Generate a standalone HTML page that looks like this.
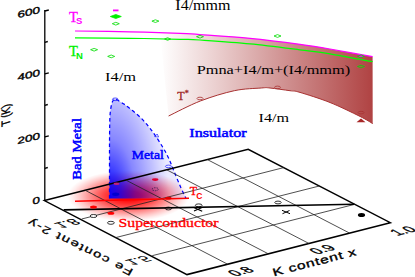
<!DOCTYPE html>
<html><head><meta charset="utf-8">
<style>
html,body{margin:0;padding:0;background:#fff;}
body{width:415px;height:277px;overflow:hidden;font-family:"Liberation Serif",serif;}
svg{display:block;}
text{font-family:"Liberation Serif",serif;}
.sb{font-family:"Liberation Sans",sans-serif;font-weight:bold;}
.ss{font-family:"Liberation Sans",sans-serif;}
</style></head><body>
<svg width="415" height="277" viewBox="0 0 415 277">
<defs>
<linearGradient id="gr" x1="160" y1="0" x2="372" y2="0" gradientUnits="userSpaceOnUse">
<stop offset="0" stop-color="#ffffff"/>
<stop offset="0.25" stop-color="#ecd2d2"/>
<stop offset="0.6" stop-color="#cf8f8f"/>
<stop offset="1" stop-color="#b04343"/>
</linearGradient>
<radialGradient id="gb" cx="0" cy="0" r="1" gradientUnits="userSpaceOnUse" gradientTransform="translate(109,199) scale(60,135)">
<stop offset="0" stop-color="#0000ff" stop-opacity="0.98"/>
<stop offset="0.2" stop-color="#0000ff" stop-opacity="0.78"/>
<stop offset="0.45" stop-color="#0000ff" stop-opacity="0.47"/>
<stop offset="0.75" stop-color="#0000ff" stop-opacity="0.25"/>
<stop offset="0.9" stop-color="#0000ff" stop-opacity="0.14"/>
<stop offset="1" stop-color="#0000ff" stop-opacity="0.08"/>
</radialGradient>
<radialGradient id="gs" cx="0.5" cy="0.5" r="0.5">
<stop offset="0" stop-color="#ff0000" stop-opacity="1"/>
<stop offset="0.2" stop-color="#ff0000" stop-opacity="0.93"/>
<stop offset="0.4" stop-color="#ff0000" stop-opacity="0.74"/>
<stop offset="0.6" stop-color="#ff0000" stop-opacity="0.48"/>
<stop offset="0.8" stop-color="#ff0000" stop-opacity="0.21"/>
<stop offset="0.92" stop-color="#ff0000" stop-opacity="0.07"/>
<stop offset="1" stop-color="#ff0000" stop-opacity="0"/>
</radialGradient>
</defs>
<rect width="415" height="277" fill="#fff"/>

<!-- red structural region -->
<path d="M160.0,32.6 C163.3,32.7 173.3,33.0 180.0,33.3 C186.7,33.6 188.3,33.8 200.0,34.6 C211.7,35.4 233.3,36.7 250.0,38.3 C266.7,39.9 286.7,42.5 300.0,44.3 C313.3,46.1 317.9,46.9 330.0,49.0 C342.1,51.1 365.5,55.4 372.6,56.7 L372.7,123.6 C370.6,122.4 367.1,119.9 360.0,116.4 C352.9,112.9 340.0,106.5 330.0,102.5 C320.0,98.5 306.7,94.4 300.0,92.4 C293.3,90.4 295.0,91.4 290.0,90.7 C285.0,90.0 274.8,88.5 270.0,88.0 C265.2,87.5 267.2,87.5 261.3,88.0 C255.4,88.5 244.4,88.5 234.3,90.7 C224.2,92.9 211.6,96.7 200.6,100.9 C189.6,105.1 173.9,113.5 168.6,116.0 Z" fill="url(#gr)"/>
<path d="M168.6,116.0 C173.9,113.5 189.6,105.1 200.6,100.9 C211.6,96.7 224.2,92.9 234.3,90.7 C244.4,88.5 255.4,88.5 261.3,88.0 C267.2,87.5 265.2,87.5 270.0,88.0 C274.8,88.5 285.0,90.0 290.0,90.7 C295.0,91.4 293.3,90.4 300.0,92.4 C306.7,94.4 320.0,98.5 330.0,102.5 C340.0,106.5 352.9,112.9 360.0,116.4 C367.1,119.9 370.6,122.4 372.7,123.6" fill="none" stroke="#a83232" stroke-width="1"/>

<!-- superconductor blob -->
<ellipse cx="128.5" cy="196" rx="61" ry="25.5" fill="url(#gs)"/>

<!-- blue metal region -->
<path d="M109.5,198.5 C109.5,190.4 109.5,162.2 109.5,150.0 C109.5,137.8 109.6,131.3 109.7,125.0 C109.8,118.7 109.9,115.8 110.3,112.0 C110.7,108.2 111.5,104.2 112.3,102.0 C113.1,99.8 114.7,99.2 115.2,98.7 C116.7,99.6 121.0,102.1 123.9,104.1 C126.8,106.1 129.6,108.2 132.5,110.6 C135.4,112.9 138.5,115.5 141.2,118.2 C143.9,120.9 146.5,124.0 148.8,126.9 C151.2,129.8 153.0,132.2 155.3,135.6 C157.7,139.0 160.7,143.8 162.9,147.5 C165.1,151.2 166.6,153.9 168.4,157.7 C170.2,161.4 171.4,164.9 173.5,170.0 C175.6,175.1 178.9,183.2 181.0,188.0 C183.1,192.8 185.2,196.8 186.0,198.5 Z" fill="url(#gb)"/>
<path d="M109.5,198.5 C109.5,190.4 109.5,162.2 109.5,150.0 C109.5,137.8 109.6,131.3 109.7,125.0 C109.8,118.7 109.9,115.8 110.3,112.0 C110.7,108.2 111.5,104.2 112.3,102.0 C113.1,99.8 114.7,99.2 115.2,98.7 C116.7,99.6 121.0,102.1 123.9,104.1 C126.8,106.1 129.6,108.2 132.5,110.6 C135.4,112.9 138.5,115.5 141.2,118.2 C143.9,120.9 146.5,124.0 148.8,126.9 C151.2,129.8 153.0,132.2 155.3,135.6 C157.7,139.0 160.7,143.8 162.9,147.5 C165.1,151.2 166.6,153.9 168.4,157.7 C170.2,161.4 171.4,164.9 173.5,170.0 C175.6,175.1 178.9,183.2 181.0,188.0 C183.1,192.8 185.2,196.8 186.0,198.5" fill="none" stroke="#0000ff" stroke-width="1.25" stroke-dasharray="3.6,2.8"/>

<!-- floor -->
<g stroke="#000" fill="none">
<path d="M44.4,200.6 L248.2,149.3 L390.3,222.7 L187,274.6 Z" stroke-width="1.5"/>
<g stroke-width="0.8" stroke="#222">
<line x1="85.2" y1="190.3" x2="227.6" y2="264.2"/>
<line x1="125.9" y1="180.1" x2="268.3" y2="253.8"/>
<line x1="166.7" y1="169.8" x2="309" y2="243.5"/>
<line x1="207.4" y1="159.6" x2="349.6" y2="233.1"/>
<line x1="81.7" y1="219" x2="283.7" y2="167.6"/>
<line x1="115.7" y1="237.6" x2="319.3" y2="186"/>
<line x1="152.2" y1="255.7" x2="354.8" y2="204.3"/>
</g>
<line x1="63.7" y1="209.9" x2="354.3" y2="204.2" stroke-width="1.6"/>
</g>

<!-- Tc line -->
<line x1="75" y1="201.2" x2="189" y2="198.3" stroke="#ff0000" stroke-width="1.4"/>

<!-- T axis -->
<g stroke="#000" stroke-width="1.3" fill="none">
<line x1="44.8" y1="10" x2="44.8" y2="201"/>
<path d="M44.8,11 l4,-1 M44.8,42.3 l3,-0.8 M44.8,73.8 l4,-1 M44.8,105.3 l3,-0.8 M44.8,136.8 l4,-1 M44.8,168.3 l3,-0.8"/>
</g>

<!-- Ts, TN lines -->
<path d="M75.0,31.0 C84.2,31.1 112.5,31.4 130.0,31.8 C147.5,32.2 168.3,32.8 180.0,33.3 C191.7,33.8 188.3,33.8 200.0,34.6 C211.7,35.4 233.3,36.7 250.0,38.3 C266.7,39.9 286.7,42.5 300.0,44.3 C313.3,46.1 317.9,46.9 330.0,49.0 C342.1,51.1 365.5,55.4 372.6,56.7" fill="none" stroke="#ff00ff" stroke-width="1.2"/>
<path d="M75.0,37.8 C84.2,37.9 112.5,38.0 130.0,38.3 C147.5,38.5 168.3,39.0 180.0,39.3 C191.7,39.6 188.3,39.2 200.0,40.0 C211.7,40.8 233.3,42.2 250.0,43.8 C266.7,45.4 286.7,48.1 300.0,49.8 C313.3,51.5 317.9,51.8 330.0,53.8 C342.1,55.8 365.5,60.4 372.6,61.7" fill="none" stroke="#00ff00" stroke-width="1.2"/>

<!-- markers -->
<g fill="none" stroke-width="0.8">
<line x1="113" y1="10.4" x2="118.5" y2="10.4" stroke="#ff00ff" stroke-width="1.8"/>
<path d="M110.3,16.5 L115.8,14.5 L121.3,16.5 L115.8,18.5 Z" fill="#00f000" stroke="#00f000"/>
<path d="M112.3,23.7 L115.8,22.3 L119.3,23.7 L115.8,25.1 Z" stroke="#00dd00"/>
<path d="M151.9,21.1 L155.4,19.8 L158.9,21.1 L155.4,22.5 Z" stroke="#00dd00"/>
<path d="M90.6,49.7 L94.1,48.4 L97.6,49.7 L94.1,51.1 Z" stroke="#00dd00"/>
<path d="M107.7,56.4 L111.2,55.0 L114.7,56.4 L111.2,57.8 Z" stroke="#00dd00"/>
<path d="M164.6,39.0 L167.6,37.7 L170.6,39.0 L167.6,40.3 Z" stroke="#00dd00"/>
<path d="M196.5,36.7 L200.0,35.4 L203.5,36.7 L200.0,38.1 Z" stroke="#00dd00"/>
<path d="M274.0,36.0 L277.5,34.6 L281.0,36.0 L277.5,37.4 Z" stroke="#00dd00"/>
<path d="M357.5,56.3 L361.0,54.9 L364.5,56.3 L361.0,57.6 Z" stroke="#00dd00" fill="#ff00ff"/>
<path d="M357.5,66.5 L361.0,65.2 L364.5,66.5 L361.0,67.8 Z" stroke="#00dd00"/>
<ellipse cx="200" cy="98.5" rx="3" ry="1.3" stroke="#a83232"/>
<ellipse cx="277.5" cy="87.4" rx="3" ry="1.3" stroke="#a83232"/>
<ellipse cx="361" cy="112.6" rx="3" ry="1.3" stroke="#a83232"/>
<path d="M356.5,122.3 L361,118.6 L365.5,122.3 Z" fill="#a82828" stroke="none"/>
<ellipse cx="115.7" cy="194.3" rx="3.6" ry="1.7" fill="#0000d0" stroke="none"/>
<ellipse cx="155.2" cy="179.6" rx="3.2" ry="1.4" fill="#e00030" stroke="none"/>
<ellipse cx="116.5" cy="183.7" rx="3" ry="1.2" fill="#c02080" stroke="none"/>
<ellipse cx="168.4" cy="198.2" rx="3.2" ry="1.4" fill="#e00000" stroke="none"/>
<ellipse cx="155.2" cy="189.2" rx="3.2" ry="1.5" stroke="#302050" stroke-dasharray="1.5,1"/>
<ellipse cx="168.4" cy="166.4" rx="3" ry="1.3" stroke="#3030ff"/>
<ellipse cx="115.2" cy="99.3" rx="2.8" ry="1.3" stroke="#2020ff"/>
<path d="M154.6,136.6 L157.2,134 L158.6,137 Z" stroke="#2020ff" stroke-width="0.7"/>
<ellipse cx="168.4" cy="208.5" rx="3.2" ry="1.4" stroke="#000"/>
<ellipse cx="93.5" cy="206.9" rx="3.4" ry="1.5" fill="#ff0000" stroke="none"/>
<ellipse cx="110.9" cy="213.3" rx="3.4" ry="1.5" fill="#ff0000" stroke="none"/>
<ellipse cx="93.5" cy="216" rx="3.4" ry="1.5" stroke="#000" fill="#fff"/>
<ellipse cx="110.9" cy="222.8" rx="3.4" ry="1.5" stroke="#000" fill="#fff"/>
<ellipse cx="278" cy="202.5" rx="3.2" ry="1.4" stroke="#000"/>
<path d="M193.8,207.4 l8.4,3.8 M194,211 l8,-3.6" stroke="#000" stroke-width="1.1"/>
<ellipse cx="198.7" cy="205.3" rx="3.4" ry="1.4" stroke="#000"/>
<path d="M282,210.3 l8,3.4 M282.5,213.7 l7,-3.2" stroke="#000" stroke-width="1"/>
<ellipse cx="361.5" cy="215" rx="3.6" ry="2" fill="#000" stroke="none"/>
</g>

<!-- labels -->
<g font-size="13">
<text x="175.3" y="9.8" font-size="13.8" textLength="55.2" lengthAdjust="spacingAndGlyphs">I4/mmm</text>
<text x="105" y="80.5" textLength="31" lengthAdjust="spacingAndGlyphs">I4/m</text>
<text x="258.5" y="122" textLength="30.5" lengthAdjust="spacingAndGlyphs">I4/m</text>
<text x="196.7" y="73.5" textLength="153.5" lengthAdjust="spacingAndGlyphs">Pmna+I4/m+(I4/mmm)</text>
<text x="69" y="21.5" fill="#ff00ff" font-size="14.5" stroke="#ff00ff" stroke-width="0.3">T</text>
<text class="sb" x="76" y="24" fill="#ff00ff" font-size="9.5">S</text>
<text x="69" y="56" fill="#00f000" font-size="14.5" stroke="#00f000" stroke-width="0.3">T</text>
<text class="sb" x="76" y="58.6" fill="#00f000" font-size="9.5">N</text>
<text x="177.3" y="99.5" fill="#a02828" font-size="12" stroke="#a02828" stroke-width="0.3">T<tspan font-size="8" dy="-4">*</tspan></text>
<text x="189.7" y="195.3" fill="#ff0000" font-size="12" stroke="#ff0000" stroke-width="0.3">T</text>
<text class="sb" x="196.3" y="198.9" fill="#ff0000" font-size="8.5">C</text>
<text x="118.5" y="226.5" fill="#ff0000" textLength="100" lengthAdjust="spacingAndGlyphs" font-size="13" stroke="#ff0000" stroke-width="0.3">Superconductor</text>
</g>
<g fill="#0000ff" font-size="12.3" stroke="#0000ff" stroke-width="0.5">
<text x="189.3" y="137.3" textLength="57.3" lengthAdjust="spacingAndGlyphs">Insulator</text>
<text x="131.8" y="159.4" textLength="32" lengthAdjust="spacingAndGlyphs">Metal</text>
<text transform="translate(80.6,179.7) rotate(-90)" textLength="61.5" lengthAdjust="spacingAndGlyphs">Bad Metal</text>
</g>

<!-- axis numerals -->
<g class="ss" font-style="italic" font-size="9.2" fill="#000" stroke="#000" stroke-width="0.35">
<text class="ss" transform="translate(18,18) rotate(-13)" textLength="23" lengthAdjust="spacingAndGlyphs">600</text>
<text class="ss" transform="translate(18,80.8) rotate(-13)" textLength="23" lengthAdjust="spacingAndGlyphs">400</text>
<text class="ss" transform="translate(18,144) rotate(-13)" textLength="23" lengthAdjust="spacingAndGlyphs">200</text>
<text class="ss" transform="translate(33,204.6) rotate(-13)" textLength="7.6" lengthAdjust="spacingAndGlyphs">0</text>
<text class="ss" transform="matrix(0,-1,1.12,-0.33,10.4,124.8)" font-style="normal" font-size="11" textLength="21.5" lengthAdjust="spacingAndGlyphs">T (K)</text>
</g>
<g class="ss" font-size="15" fill="#000">
<text class="ss" transform="matrix(0.97,-0.25,0.88,0.47,235.2,276.4)" stroke="#000" stroke-width="0.45">0.8</text>
<text class="ss" transform="matrix(0.97,-0.25,0.88,0.47,316.7,254.4)" stroke="#000" stroke-width="0.45">0.9</text>
<text class="ss" transform="matrix(0.97,-0.25,0.88,0.47,397.3,235.8)" stroke="#000" stroke-width="0.45">1.0</text>
<text class="ss" transform="matrix(0.97,-0.25,-0.88,-0.47,52.7,223.75)" stroke="#000" stroke-width="0.2">1.8</text>
<text class="ss" transform="matrix(0.97,-0.25,-0.88,-0.47,123.8,260.75)" stroke="#000" stroke-width="0.2">1.5</text>
<text class="ss" font-size="11" stroke="#000" stroke-width="0.35" transform="matrix(1.358,-0.35,0.3,0.95,274,276.3)" textLength="61" lengthAdjust="spacing">K content x</text>
<text class="ss" font-size="10.5" stroke="#000" stroke-width="0.3" transform="matrix(-1.254,-0.622,0.5,-0.86,133.8,269.7)" textLength="82.3" lengthAdjust="spacing">Fe content 2-y</text>
</g>
</svg>
</body></html>
